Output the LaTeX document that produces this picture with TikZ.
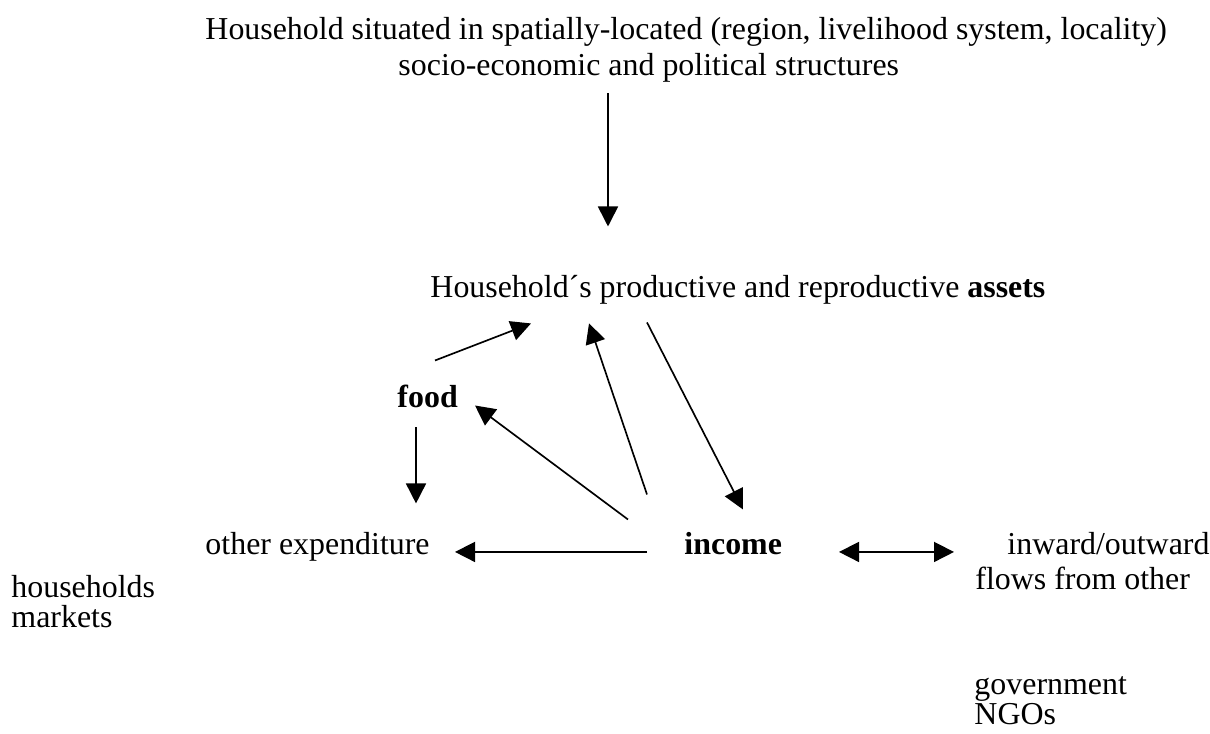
\documentclass[tikz,border=0pt]{standalone}
\usepackage{fontspec}
\setmainfont{Liberation Serif}
\usetikzlibrary{arrows.meta,calc}

\tikzset{
  lbl/.style={inner sep=0pt, text height=8pt, text depth=2.5pt, anchor=base west,
    font=\fontsize{13.4}{15.4}\selectfont},
  key/.style={lbl, font=\fontsize{13.4}{15.4}\selectfont\bfseries},
  flow/.style={line width=0.7pt, -{Triangle[length=8.4pt,width=8.4pt]}},
  flows/.style={flow, {Triangle[length=8.4pt,width=8.4pt]}-{Triangle[length=8.4pt,width=8.4pt]}},
}

\begin{document}
\begin{tikzpicture}[x=0.42pt,y=-0.42pt]
  \useasboundingbox (0,0) rectangle (1210,733);

  % text blocks
  \node[lbl] (top1) at (205,39) {Household situated in spatially-located (region, livelihood system, locality)};
  \node[lbl] (top2) at (398,75) {socio-economic and political structures};
  \node[lbl] (assets) at (430,297) {Household´s productive and reproductive \textbf{assets}};
  \node[key] (food) at (397,407) {food};
  \node[lbl] (other) at (205,554) {other expenditure};
  \node[key] (income) at (684,554) {income};
  \node[lbl] (inward) at (1007,554) {inward/outward};
  \node[lbl] (flowsfrom) at (975,589) {flows from other};
  \node[lbl] (hh) at (11,597) {households};
  \node[lbl] (mkt) at (11,627) {markets};
  \node[lbl] (gov) at (974,694) {government};
  \node[lbl] (ngo) at (974,724) {NGOs};

  % arrows
  \draw[flow] ($(top2.south west)+(210,12)$) -- ($(assets.north west)+(178,-51)$);
  \draw[flow] ($(food.north west)+(38,-27)$) -- ($(assets.south west)+(101,20)$);
  \draw[flow] ($(income.north west)+(-37,-40)$) -- ($(assets.south west)+(159,20)$);
  \draw[flow] ($(assets.south west)+(217,19)$) -- ($(income.north west)+(59,-25)$);
  \draw[flow] ($(income.north west)+(-56,-15)$) -- ($(food.north west)+(78,18)$);
  \draw[flow] ($(food.south west)+(19,14)$) -- ($(food.south west)+(19,90)$);
  \draw[flow] ($(income.west)+(-37,4.5)$) -- ($(other.west)+(250,4.5)$);
  \draw[flows] ($(income.west)+(155,4.5)$) -- ($(inward.west)+(-53,4.5)$);
\end{tikzpicture}
\end{document}
